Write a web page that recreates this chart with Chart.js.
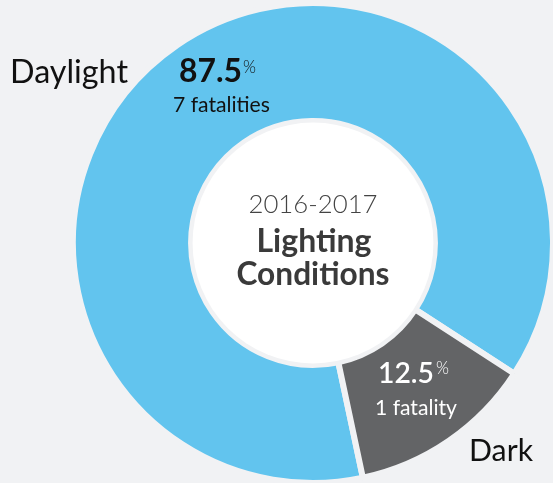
<!DOCTYPE html>
<html>
<head>
<meta charset="utf-8">
<script src="https://cdn.jsdelivr.net/npm/chart.js@4.4.1/dist/chart.umd.min.js"></script>
<style>
  html, body { margin: 0; padding: 0; background: #F1F2F4; }
  #wrap { width: 553px; height: 483px; position: relative; }
</style>
</head>
<body>
<div id="wrap"><canvas id="c" width="553" height="483"></canvas></div>
<script>
// ---- data ----
const categories = ["Daylight", "Dark"];
const fatalities = [7, 1];
const centerYear = "2016-2017";
const centerTitle = ["Lighting", "Conditions"];

const BG = "#F1F2F4";
const sliceColors = ["#62C4EE", "#636466"];
const FAMILY = "Lato, 'Open Sans', sans-serif";

const total = fatalities.reduce((a, b) => a + b, 0);
const pct = fatalities.map(v => (v / total * 100).toFixed(1));
const countLabel = fatalities.map(v => v + (v === 1 ? " fatality" : " fatalities"));

function fitFont(ctx, text, weight, targetWidth) {
  ctx.font = weight + " 100px " + FAMILY;
  const w = ctx.measureText(text).width;
  return 100 * targetWidth / w;
}
function drawText(ctx, text, weight, width, x, y, color, align) {
  const size = fitFont(ctx, text, weight, width);
  ctx.font = weight + " " + size.toFixed(2) + "px " + FAMILY;
  ctx.fillStyle = color;
  ctx.textAlign = align || "left";
  ctx.textBaseline = "alphabetic";
  ctx.fillText(text, x, y);
  return ctx.measureText(text).width;
}

const overlay = {
  id: "overlay",
  afterDatasetsDraw(chart) {
    const ctx = chart.ctx;
    const arc0 = chart.getDatasetMeta(0).data[0];
    const cx = arc0.x, cy = arc0.y;
    const rIn = arc0.innerRadius;
    ctx.save();
    // white centre disc
    ctx.beginPath();
    ctx.arc(cx, cy, rIn - 1.5, 0, Math.PI * 2);
    ctx.fillStyle = "#FFFFFF";
    ctx.fill();

    // centre texts
    drawText(ctx, centerYear, 300, 129, cx, 213, "#444444", "center");
    drawText(ctx, centerTitle[0], 700, 115, cx + 1, 252, "#3A3A3A", "center");
    drawText(ctx, centerTitle[1], 700, 153, cx, 285, "#3A3A3A", "center");

    // Daylight slice
    drawText(ctx, categories[0], 400, 118, 10, 83, "#111111");
    drawText(ctx, pct[0], 700, 63, 179, 82, "#111111");
    drawText(ctx, "%", 300, 13, 243, 72.5, "#111111");
    drawText(ctx, countLabel[0], 400, 97, 173, 112, "#111111");

    // Dark slice
    drawText(ctx, pct[1], 600, 56, 378, 383, "#FFFFFF");
    drawText(ctx, "%", 300, 13, 436, 374, "#FFFFFF");
    drawText(ctx, countLabel[1], 400, 82, 375, 415, "#FFFFFF");
    drawText(ctx, categories[1], 400, 64, 469, 461, "#111111");
    ctx.restore();
  }
};

new Chart(document.getElementById("c"), {
  type: "doughnut",
  data: {
    labels: categories,
    datasets: [{
      data: fatalities,
      backgroundColor: sliceColors,
      borderColor: BG,
      borderWidth: 6,
      borderJoinStyle: "miter",
      hoverOffset: 0,
      clip: false
    }]
  },
  options: {
    responsive: false,
    animation: false,
    rotation: 168,
    radius: 240,
    cutout: "50.8%",
    layout: { padding: { left: 73, right: 0, top: 3, bottom: 0 } },
    plugins: {
      legend: { display: false },
      tooltip: { enabled: false }
    },
    events: []
  },
  plugins: [overlay]
});
</script>
</body>
</html>
